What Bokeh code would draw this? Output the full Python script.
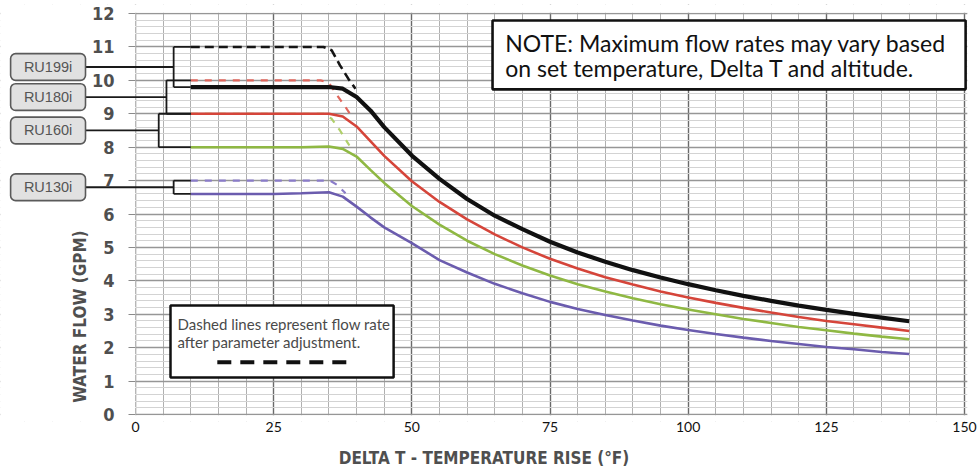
import math
from bokeh.plotting import figure
from bokeh.models import Range1d, SingleIntervalTicker, FixedTicker
from bokeh.core.properties import value
from bokeh.embed import file_html
from bokeh.resources import INLINE

# ---------------- data ----------------
delta_t = [10, 15, 20, 25, 30, 35, 37.5, 40, 42.5, 45, 50, 55, 60, 65, 70, 75,
           80, 85, 90, 95, 100, 105, 110, 115, 120, 125, 130, 135, 140]

ru199i_flow = [9.8, 9.8, 9.8, 9.8, 9.8, 9.8, 9.75, 9.5, 9.1, 8.6, 7.75, 7.05, 6.45, 5.95,
               5.55, 5.17, 4.85, 4.57, 4.32, 4.1, 3.9, 3.72, 3.55, 3.4, 3.26, 3.13, 3.01, 2.9, 2.79]
ru180i_flow = [9.0, 9.0, 9.0, 9.0, 9.0, 9.0, 8.92, 8.62, 8.18, 7.74, 6.98, 6.36, 5.84, 5.39,
               5.0, 4.66, 4.37, 4.11, 3.89, 3.68, 3.5, 3.34, 3.19, 3.05, 2.92, 2.8, 2.7, 2.6, 2.5]
ru160i_flow = [8.0, 8.0, 8.0, 8.0, 8.0, 8.02, 7.95, 7.72, 7.32, 6.93, 6.24, 5.68, 5.2, 4.8,
               4.46, 4.16, 3.9, 3.68, 3.48, 3.3, 3.14, 3.0, 2.86, 2.74, 2.62, 2.52, 2.42, 2.33, 2.25]
ru130i_flow = [6.6, 6.6, 6.6, 6.6, 6.62, 6.65, 6.52, 6.22, 5.9, 5.6, 5.13, 4.62, 4.25, 3.91,
               3.63, 3.37, 3.16, 2.98, 2.81, 2.66, 2.53, 2.41, 2.3, 2.2, 2.11, 2.02, 1.95, 1.87, 1.81]

# dashed: flow rate after parameter adjustment
ru199i_adj_t = [10, 34, 35.5, 37, 38.5, 39.8]
ru199i_adj_flow = [11.0, 11.0, 10.9, 10.45, 10.05, 9.75]
ru180i_adj_t = [10, 33.5, 35, 36.5, 38, 39]
ru180i_adj_flow = [10.0, 10.0, 9.92, 9.55, 9.2, 8.95]
ru160i_adj_t = [10, 34, 35.5, 37, 38.7]
ru160i_adj_flow = [9.0, 9.0, 8.85, 8.5, 8.05]
ru130i_adj_t = [10, 35.2, 36.5, 38]
ru130i_adj_flow = [7.0, 7.0, 6.87, 6.62]

models = ["RU199i", "RU180i", "RU160i", "RU130i"]
solid_caps = [9.8, 9.0, 8.0, 6.6]
dashed_caps = [11.0, 10.0, 9.0, 7.0]

x_ticks = [0, 25, 50, 75, 100, 125, 150]
y_ticks = [0, 1, 2, 3, 4, 5, 6, 7, 8, 9, 10, 11, 12]

x_title = "DELTA T - TEMPERATURE RISE (\u00b0F)"
y_title = "WATER FLOW (GPM)"
note_lines = ["NOTE: Maximum flow rates may vary based",
              "on set temperature, Delta T and altitude."]
legend_lines = ["Dashed lines represent flow rate",
                "after parameter adjustment."]

# ---------------- styling ----------------
NARROW = "'DejaVu Sans Condensed', 'DejaVu Sans', sans-serif"
GRAYTXT = "#4f4f4f"

X0, X1 = 0, 150      # grid extent
Y0, Y1 = 0, 12

p = figure(width=977, height=473,
           x_range=Range1d(-24.43, 150.54), y_range=Range1d(-0.21, 12.27),
           output_backend="svg", toolbar_location=None,
           min_border_left=0, min_border_right=10, min_border_top=4, min_border_bottom=52)
p.outline_line_color = None
p.background_fill_color = "white"
p.border_fill_color = "white"

# grid
p.xgrid.ticker = SingleIntervalTicker(interval=25, num_minor_ticks=5)
p.xgrid.grid_line_color = "#6a6a6a"
p.xgrid.grid_line_width = 1.4
p.xgrid.minor_grid_line_color = "#b0b0b0"
p.xgrid.minor_grid_line_width = 1
p.ygrid.ticker = SingleIntervalTicker(interval=1, num_minor_ticks=5)
p.ygrid.grid_line_color = "#969696"
p.ygrid.grid_line_width = 1.3
p.ygrid.minor_grid_line_color = "#d3d3d3"
p.ygrid.minor_grid_line_width = 1

# x axis
p.xaxis.ticker = FixedTicker(ticks=x_ticks)
p.xaxis.axis_line_color = None
p.xaxis.major_tick_line_color = None
p.xaxis.minor_tick_line_color = None
p.xaxis.major_tick_out = 0
p.xaxis.major_label_standoff = 0
p.xaxis.major_label_text_font = "Lato"
p.xaxis.major_label_text_font_size = "14px"
p.xaxis.major_label_text_color = "#111111"
p.xaxis.axis_label = x_title
p.xaxis.axis_label_text_font = NARROW
p.xaxis.axis_label_text_font_style = "bold"
p.xaxis.axis_label_text_font_size = "17px"
p.xaxis.axis_label_text_color = GRAYTXT
p.xaxis.axis_label_standoff = 13

# y axis drawn at x = 0
p.yaxis.ticker = FixedTicker(ticks=y_ticks)
p.yaxis.fixed_location = 0
p.yaxis.bounds = (Y0, Y1)
p.yaxis.axis_line_color = None
p.yaxis.major_tick_out = 7
p.yaxis.major_tick_in = 0
p.yaxis.major_tick_line_color = "#8a8a8a"
p.yaxis.minor_tick_line_color = None
p.yaxis.major_label_standoff = 14
p.yaxis.major_label_text_font = NARROW
p.yaxis.major_label_text_font_style = "bold"
p.yaxis.major_label_text_font_size = "18px"
p.yaxis.major_label_text_color = GRAYTXT

# white areas around the grid (labels / model boxes live there)
xs, xe = p.x_range.start, p.x_range.end
ys, ye = p.y_range.start, p.y_range.end
p.quad(left=[xs, xs, xs], right=[X0, xe, xe],
       bottom=[ys, Y1 + 0.025, ys], top=[ye, ye, Y0 - 0.025],
       fill_color="white", line_color=None)

# dashed (after adjustment)
p.line(ru130i_adj_t, ru130i_adj_flow, line_color="#8a7cc9", line_width=2.2, line_dash="7 7")
p.line(ru160i_adj_t, ru160i_adj_flow, line_color="#b0cf6a", line_width=2.2, line_dash="7 7")
p.line(ru180i_adj_t, ru180i_adj_flow, line_color="#e0665c", line_width=2.2, line_dash="7 7")
p.line(ru199i_adj_t, ru199i_adj_flow, line_color="#151515", line_width=2.6, line_dash="9 5")

# solid curves
p.line(delta_t, ru130i_flow, line_color="#6b5cae", line_width=2.6)
p.line(delta_t, ru160i_flow, line_color="#8fb843", line_width=2.6)
p.line(delta_t, ru180i_flow, line_color="#d5453a", line_width=2.6)
p.line(delta_t, ru199i_flow, line_color="#111111", line_width=4.2)

# model boxes and brackets
box_left, box_right = -22.6, -9.05
bracket_x = [6.9, 5.6, 4.2, 6.9]
mids = [(a + b) / 2 for a, b in zip(solid_caps, dashed_caps)]
xs0, ys0, xs1, ys1 = [], [], [], []
for bx, lo, hi, m in zip(bracket_x, solid_caps, dashed_caps, mids):
    for a, b, c, d in [(box_right, m, bx, m), (bx, lo, bx, hi),
                       (bx, lo, delta_t[0], lo), (bx, hi, delta_t[0], hi)]:
        xs0.append(a); ys0.append(b); xs1.append(c); ys1.append(d)
p.segment(x0=xs0, y0=ys0, x1=xs1, y1=ys1, line_color="#1a1a1a", line_width=1.8)

p.quad(left=[box_left] * 4, right=[box_right] * 4,
       bottom=[m - 0.4 for m in mids], top=[m + 0.4 for m in mids],
       fill_color="#e1e1e1", line_color="#5a5a5a", line_width=1.6, border_radius=5)
p.text(x=[(box_left + box_right) / 2] * 4, y=mids, text=models,
       text_font=value("Liberation Sans"), text_font_size="14.5px", text_color="#555555",
       text_align="center", text_baseline="middle")

# y title
p.text(x=[-10.1], y=[2.93], text=[y_title], angle=math.pi / 2,
       text_font=value(NARROW), text_font_style="bold", text_font_size="17px",
       text_color=GRAYTXT, text_align="center", text_baseline="middle")

# legend note box
p.quad(left=[6.33], right=[46.7], bottom=[1.11], top=[3.26],
       fill_color="white", line_color="#111111", line_width=2.5)
p.text(x=[7.6, 7.6], y=[2.72, 2.16], text=legend_lines,
       text_font=value("Lato"), text_font_size="15px", text_color="#4a4a4a",
       text_baseline="middle")
p.line([14.8, 39.4], [1.56, 1.56], line_color="#111111", line_width=4, line_dash="14 9")

# NOTE box
p.quad(left=[64.6], right=[150.2], bottom=[9.73], top=[11.79],
       fill_color="white", line_color="#111111", line_width=2.6)
p.text(x=[66.9, 66.9], y=[11.13, 10.38], text=note_lines,
       text_font=value("Lato"), text_font_size="23px", text_color="#111111",
       text_baseline="middle")

open("out.html", "w").write(file_html(p, INLINE))
